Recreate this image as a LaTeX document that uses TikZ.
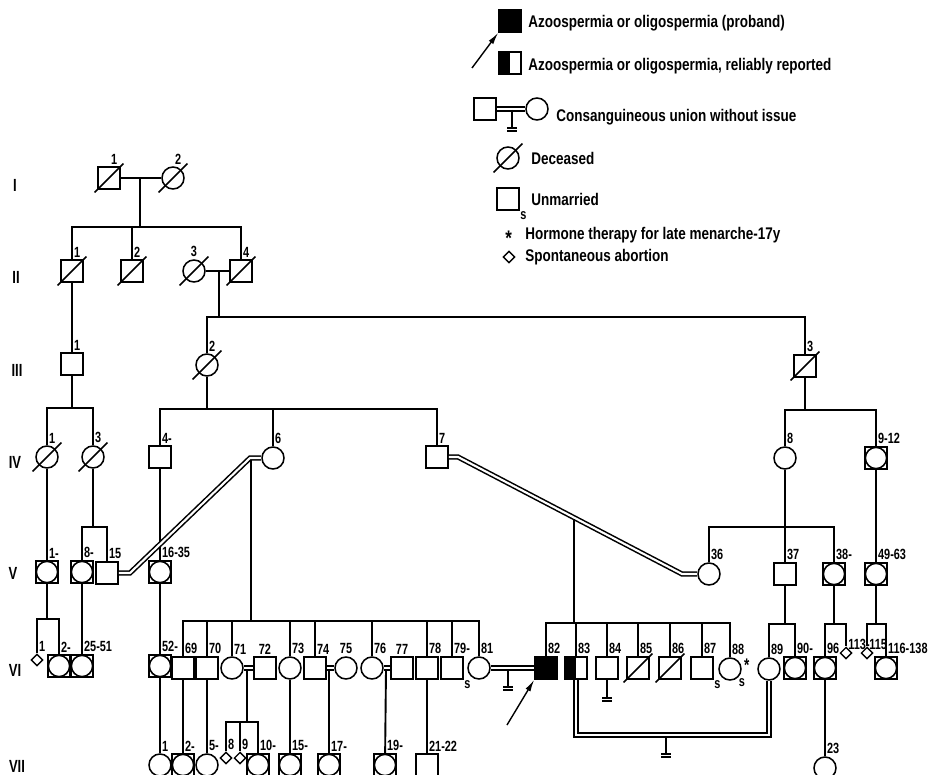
\documentclass[tikz,border=0pt]{standalone}
\usepackage{fontspec}
\setmainfont{Liberation Sans}
\newfontfamily\pedfont[FakeStretch=0.74]{Liberation Sans}
\newfontfamily\keyfont[FakeStretch=0.8]{Liberation Sans}
\usetikzlibrary{arrows.meta, positioning, shapes.geometric}

\begin{document}
\begin{tikzpicture}[
      x=0.025cm, y=-0.025cm,
      person/.style={draw, line width=1.1pt, minimum size=5.5mm, inner sep=0pt},
      male/.style={person, rectangle},
      female/.style={person, circle},
      multi/.style={male, path picture={\draw[line width=1.1pt] (path picture bounding box.center) circle (2.65mm);}},
      proband/.style={male, fill=black},
      reported/.style={male, path picture={\fill (path picture bounding box.south west) rectangle (path picture bounding box.north);}},
      abortion/.style={draw, diamond, line width=1pt, minimum size=2.9mm, inner sep=0pt},
      deceased/.style={append after command={([shift={(-3.6mm,-3.6mm)}]\tikzlastnode.center) edge[draw, line width=1.1pt] ([shift={(3.6mm,3.6mm)}]\tikzlastnode.center)}},
      num/.style={font=\pedfont\bfseries\fontsize{10.5}{11}\selectfont, inner sep=1pt},
      tag/.style={label={[num, anchor=south west, xshift=0.3pt, yshift=0.3pt]north:#1}},
      dtag/.style={label={[num, anchor=south west, xshift=0.5pt, yshift=-3.5pt]north:#1}},
      ctag/.style={label={[num, yshift=0.3pt]north:#1}},
      unwed/.style={label={[num, anchor=north west, xshift=-0.8pt, yshift=0.5pt]south east:s}},
      hormone/.style={label={[num, font=\pedfont\bfseries\fontsize{13}{13}\selectfont, anchor=west, xshift=3pt, yshift=-3pt]north east:*}},
      gen/.style={font=\pedfont\bfseries\fontsize{12.5}{13}\selectfont, inner sep=0pt},
      keytext/.style={font=\keyfont\bfseries\fontsize{12}{14}\selectfont, anchor=west, inner sep=0pt},
      rel/.style={line width=1.35pt},
      consang/.style={draw, double, double distance=1.5pt, line width=1.1pt},
      pointer/.style={-{Latex[length=3mm, width=1.4mm]}, line width=1pt},
      nokids/.pic={\draw[line width=1.1pt] (0,0) -- (0,18) (-5,18) -- (5,18) (-5,21) -- (5,21);}]
    \useasboundingbox (0,0) rectangle (930,775);
    % key
    \node[proband] (kyProband) at (510,21) {};
    \node[keytext] (kyT1) at (528,23) {Azoospermia or oligospermia (proband)};
    \coordinate (kyTail) at (472,68);
    \draw[pointer] (kyTail) -- (kyProband.south west);
    \node[reported] (kyReported) at (510,63) {};
    \node[keytext] (kyT2) at (528,66) {Azoospermia or oligospermia, reliably reported};
    \node[male] (kySq) at (485,109) {};
    \node[female] (kyCi) at (537,109) {};
    \draw[consang] (kySq) -- (kyCi);
    \pic at (512,110) {nokids};
    \node[keytext] (kyT3) at (556,117) {Consanguineous union without issue};
    \node[female, deceased] (kyDead) at (508,158) {};
    \node[keytext] (kyT4) at (531,158) {Deceased};
    \node[male, unwed] (kyUnwed) at (508,199) {};
    \node[keytext] (kyT5) at (531,199) {Unmarried};
    \node[keytext, font=\keyfont\bfseries\fontsize{15}{15}\selectfont] (kyStar) at (505,238) {*};
    \node[keytext] (kyT6) at (525,235) {Hormone therapy for late menarche-17y};
    \node[abortion] (kyAbort) at (509,257) {};
    \node[keytext] (kyT7) at (525,257) {Spontaneous abortion};
    % generation numerals
    \node[gen] (gI) at (15,185) {I};
    \node[gen] (gII) at (16,277) {II};
    \node[gen] (gIII) at (17,370) {III};
    \node[gen] (gIV) at (15,462) {IV};
    \node[gen] (gV) at (13,573) {V};
    \node[gen] (gVI) at (15,670) {VI};
    \node[gen] (gVII) at (17,766) {VII};
    % generation I and II
    \node[male, deceased, tag=1] (i1) at (109,178) {};
    \node[female, deceased, tag=2] (i2) at (173,178) {};
    \coordinate (mI) at (140,178);
    \coordinate (sI) at (140,227);
    \node[male, deceased, tag=1] (ii1) at (72,271) {};
    \node[male, deceased, tag=2] (ii2) at (132,271) {};
    \node[female, deceased, ctag=3] (ii3) at (194,271) {};
    \node[male, deceased, tag=4] (ii4) at (241,271) {};
    \coordinate (mII) at (219,271);
    \coordinate (sII) at (219,317);
    \draw[rel] (i1) -- (i2);
    \draw[rel] (mI) -- (sI);
    \draw[rel] (ii1.north) |- (sI) -| (ii4.north);
    \draw[rel] (ii2.north) -- (ii2 |- sI);
    \draw[rel] (ii3) -- (ii4);
    \draw[rel] (mII) -- (sII);
    % generation III
    \node[male, tag=1] (iii1) at (72,364) {};
    \node[female, deceased, tag=2] (iii2) at (207,365) {};
    \node[male, deceased, tag=3] (iii3) at (805,366) {};
    \draw[rel] (ii1) -- (iii1);
    \draw[rel] (iii2.north) |- (sII) -| (iii3.north);
    % generation IV
    \node[female, deceased, tag=1] (iv1) at (47,457) {};
    \node[female, deceased, tag=3] (iv3) at (93,457) {};
    \node[male, tag=4-] (iv4) at (160,457) {};
    \node[female, tag=6] (iv6) at (273,458) {};
    \node[male, tag=7] (iv7) at (437,457) {};
    \node[female, tag=8] (iv8) at (785,458) {};
    \node[multi, tag=9-12] (iv9) at (876,458) {};
    \coordinate (sIIIa) at (72,408);
    \coordinate (sIIIb) at (207,409);
    \coordinate (sIIIc) at (805,410);
    \draw[rel] (iii1) -- (sIIIa);
    \draw[rel] (iv1.north) |- (sIIIa) -| (iv3.north);
    \draw[rel] (iii2) -- (sIIIb);
    \draw[rel] (iv4.north) |- (sIIIb) -| (iv7.north);
    \draw[rel] (iv6.north) -- (iv6 |- sIIIb);
    \draw[rel] (iii3) -- (sIIIc);
    \draw[rel] (iv8.north) |- (sIIIc) -| (iv9.north);
    % generation V
    \node[multi, tag=1-] (v1) at (47,572) {};
    \node[multi, tag=8-] (v8) at (82,572) {};
    \node[male, tag=15] (v15) at (107,573) {};
    \node[multi, tag=16-35] (v16) at (160,572) {};
    \node[female, tag=36] (v36) at (709,574) {};
    \node[male, tag=37] (v37) at (785,574) {};
    \node[multi, tag=38-] (v38) at (834,574) {};
    \node[multi, tag=49-63] (v49) at (876,574) {};
    \coordinate (sIVa) at (93,527);
    \coordinate (sIVc) at (785,527);
    \draw[rel] (iv1) -- (v1);
    \draw[rel] (iv3) -- (sIVa);
    \draw[rel] (v8.north) |- (sIVa) -| (v15.north);
    \draw[rel] (iv4) -- (v16);
    \draw[rel] (iv8) -- (v37);
    \draw[rel] (v36.north) |- (sIVc) -| (v38.north);
    \draw[rel] (iv9) -- (v49);
    % unions across generations IV and V
    \coordinate (kIV6) at (250,458);
    \coordinate (kV15) at (130,573);
    \draw[consang] (iv6.west) -- (kIV6) -- (kV15) -- (v15.east);
    \coordinate (kIV7) at (458,457);
    \coordinate (kV36) at (682,574);
    \draw[consang] (iv7.east) -- (kIV7) -- (kV36) -- (v36.west);
    \coordinate (mIV6) at (251,460);
    \coordinate (sV15) at (251,621);
    \coordinate (mIV7) at (574,519);
    \coordinate (sV36) at (574,623);
    \draw[rel] (mIV6) -- (sV15);
    \draw[rel] (mIV7) -- (sV36);
    % generation VI
    \node[abortion, tag=1] (vi1) at (37,660) {};
    \node[multi, tag=2-] (vi2) at (59,666) {};
    \node[multi, tag=25-51] (vi25) at (82,666) {};
    \node[multi, tag=52-] (vi52) at (160,666) {};
    \node[male, tag=69] (vi69) at (183,668) {};
    \node[male, tag=70] (vi70) at (207,668) {};
    \node[female, tag=71] (vi71) at (232,668) {};
    \node[male, ctag=72] (vi72) at (265,668) {};
    \node[female, tag=73] (vi73) at (290,668) {};
    \node[male, tag=74] (vi74) at (315,668) {};
    \node[female, ctag=75] (vi75) at (346,668) {};
    \node[female, tag=76] (vi76) at (372,668) {};
    \node[male, ctag=77] (vi77) at (402,668) {};
    \node[male, tag=78] (vi78) at (427,668) {};
    \node[male, tag=79-, unwed] (vi79) at (452,668) {};
    \node[female, tag=81] (vi81) at (479,668) {};
    \node[proband, tag=82] (vi82) at (546,668) {};
    \node[reported, tag=83] (vi83) at (576,668) {};
    \node[male, tag=84] (vi84) at (607,668) {};
    \node[male, deceased, tag=85] (vi85) at (638,668) {};
    \node[male, deceased, tag=86] (vi86) at (670,668) {};
    \node[male, tag=87, unwed] (vi87) at (702,668) {};
    \node[female, tag=88, unwed, hormone] (vi88) at (730,669) {};
    \node[female, tag=89] (vi89) at (769,669) {};
    \node[multi, tag=90-] (vi90) at (795,668) {};
    \node[multi, tag=96] (vi96) at (825,668) {};
    \node[abortion, dtag=113-] (vi113) at (846,653) {};
    \node[abortion, dtag=115] (vi115) at (867,653) {};
    \node[multi, tag=116-138] (vi116) at (886,668) {};
    \coordinate (sVa) at (47,619);
    \coordinate (sV37) at (785,624);
    \coordinate (sV38) at (834,624);
    \coordinate (sV49) at (876,624);
    \draw[rel] (v1) -- (sVa);
    \draw[rel] (vi1.north) |- (sVa) -| (vi2.north);
    \draw[rel] (v8) -- (vi25);
    \draw[rel] (v16) -- (vi52);
    \draw[rel] (vi69.north) |- (sV15) -| (vi81.north);
    \foreach \k in {vi70,vi71,vi73,vi74,vi76,vi78,vi79}
      \draw[rel] (\k.north) -- (\k |- sV15);
    \draw[rel] (vi82.north) |- (sV36) -| (vi88.north);
    \foreach \k in {vi83,vi84,vi85,vi86,vi87}
      \draw[rel] (\k.north) -- (\k |- sV36);
    \draw[rel] (v37) -- (sV37);
    \draw[rel] (vi89.north) |- (sV37) -| (vi90.north);
    \draw[rel] (v38) -- (sV38);
    \draw[rel] (vi96.north) |- (sV38) -| (vi113.north);
    \draw[rel] (v49) -- (sV49);
    \draw[rel] (vi115.north) |- (sV49) -| (vi116.north);
    % unions in generation VI
    \draw[consang] (vi71) -- (vi72);
    \draw[consang] (vi74) -- (vi75);
    \draw[consang] (vi76) -- (vi77);
    \draw[consang] (vi81) -- (vi82);
    \pic at (508,669) {nokids};
    \pic at (vi84.south) {nokids};
    \coordinate (kVI83) at (666,735);
    \draw[consang] (vi83.south) |- (kVI83) -| (vi89.south);
    \pic at (666,736) {nokids};
    \coordinate (pbTail) at (507,725);
    \draw[pointer] (pbTail) -- (vi82.south west);
    % generation VII
    \node[female, tag=1] (vii1) at (160,765) {};
    \node[multi, tag=2-] (vii2) at (183,765) {};
    \node[female, tag=5-] (vii5) at (207,765) {};
    \node[abortion, tag=8] (vii8) at (226,758) {};
    \node[abortion, tag=9] (vii9) at (240,758) {};
    \node[multi, tag=10-] (vii10) at (258,765) {};
    \node[multi, tag=15-] (vii15) at (290,765) {};
    \node[multi, tag=17-] (vii17) at (329,765) {};
    \node[multi, tag=19-] (vii19) at (385,765) {};
    \node[male, tag=21-22] (vii21) at (427,765) {};
    \node[female, tag=23] (vii23) at (825,768) {};
    \coordinate (mVI71) at (247,670);
    \coordinate (sVI71) at (247,722);
    \coordinate (mVI74) at (329,670);
    \coordinate (mVI76) at (386,670);
    \draw[rel] (vi52) -- (vii1);
    \draw[rel] (vi69) -- (vii2);
    \draw[rel] (vi70) -- (vii5);
    \draw[rel] (mVI71) -- (sVI71);
    \draw[rel] (vii8.north) |- (sVI71) -| (vii10.north);
    \draw[rel] (vii9.north) -- (vii9 |- sVI71);
    \draw[rel] (vi73) -- (vii15);
    \draw[rel] (mVI74) -- (vii17);
    \draw[rel] (mVI76) -- (vii19);
    \draw[rel] (vi78) -- (vii21);
    \draw[rel] (vi96) -- (vii23);
  \end{tikzpicture}
\end{document}
